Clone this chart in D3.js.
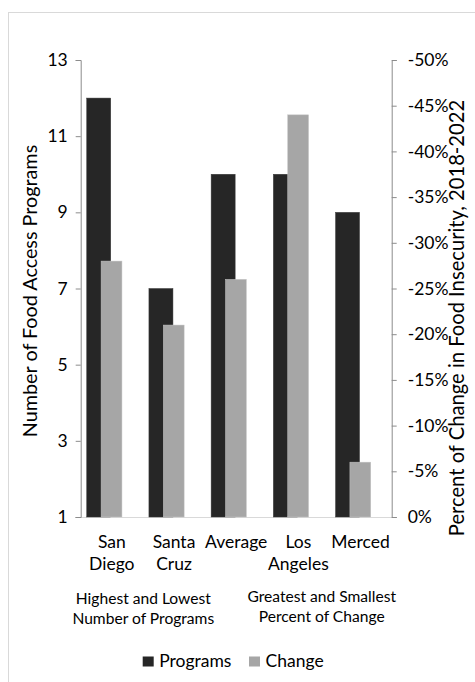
<!DOCTYPE html>
<html><head><meta charset="utf-8">
<script src="https://cdn.jsdelivr.net/npm/d3@7"></script>
<style>body{margin:0;background:#fff}svg{display:block}text{font-family:Lato,"Open Sans",sans-serif;fill:#000}</style>
</head><body><svg id="c" width="475" height="682"></svg>
<script>
const categories = [["San","Diego"],["Santa","Cruz"],["Average"],["Los","Angeles"],["Merced"]];
const programs = [12, 7, 10, 10, 9];
const change = [-0.28, -0.21, -0.26, -0.44, -0.06];
const leftTicks = [1, 3, 5, 7, 9, 11, 13];
const rightTicks = [0, -0.05, -0.10, -0.15, -0.20, -0.25, -0.30, -0.35, -0.40, -0.45, -0.50];
const groupLabels = [["Highest and Lowest","Number of Programs"],["Greatest and Smallest","Percent of Change"]];
const seriesNames = ["Programs","Change"];
const colors = ["#262626","#a6a6a6"];

const svg = d3.select("#c");
const L = 80.7, R = 391.7, T = 60, B = 517;
svg.append("rect").attr("x",8.5).attr("y",12.5).attr("width",480).attr("height",700)
  .attr("fill","none").attr("stroke","#d9d9d9");

const x = d3.scaleBand().domain(d3.range(categories.length)).range([L,R]).paddingInner(0).paddingOuter(0);
const yL = d3.scaleLinear().domain([1,13]).range([B,T]);
const yR = d3.scaleLinear().domain([0,-0.5]).range([B,T]);
const bw = x.bandwidth();

// bottom baseline
svg.append("line").attr("x1",75).attr("x2",397).attr("y1",B+0.5).attr("y2",B+0.5).attr("stroke","#d9d9d9");

// bars
svg.append("g").selectAll("rect").data(programs).join("rect")
  .attr("x",(d,i)=>x(i)+0.097*bw).attr("width",0.386*bw)
  .attr("y",d=>yL(d)).attr("height",d=>yL(1)-yL(d))
  .attr("fill",colors[0]).attr("stroke","#3a3a3a").attr("stroke-width",0.5);
svg.append("g").selectAll("rect").data(change).join("rect")
  .attr("x",(d,i)=>x(i)+0.328*bw).attr("width",0.335*bw)
  .attr("y",d=>yR(d)).attr("height",d=>yR(0)-yR(d))
  .attr("fill",colors[1]).attr("stroke","#c4c4c4").attr("stroke-width",0.5);

// axes
const axL = d3.axisLeft(yL).tickValues(leftTicks).tickSize(5).tickPadding(8).tickFormat(d3.format("d"));
const gL = svg.append("g").attr("transform",`translate(${L},0)`).call(axL);
const axR = d3.axisRight(yR).tickValues(rightTicks).tickSize(5).tickPadding(11).tickFormat(d3.format(".0%"));
const gR = svg.append("g").attr("transform",`translate(${R},0)`).call(axR);
[gL,gR].forEach(g=>{
  g.select(".domain").attr("stroke","#8c8c8c");
  g.selectAll(".tick line").attr("stroke","#8c8c8c");
  g.selectAll(".tick text").attr("font-size",17.5).attr("font-family","Lato").attr("fill","#000");
});
gR.selectAll(".tick text").text(d=> d===0 ? "0%" : "-"+Math.round(-d*100)+"%");

// category labels
const cl = svg.append("g");
categories.forEach((lines,i)=>{
  const t = cl.append("text").attr("x",x(i)+bw/2).attr("y",548).attr("text-anchor","middle").attr("font-size",17.5);
  lines.forEach((s,j)=>t.append("tspan").attr("x",x(i)+bw/2).attr("dy",j?22:0).text(s));
});
// group labels
const gx = [143.3, 321.7];
groupLabels.forEach((lines,i)=>{
  const t = svg.append("text").attr("x",gx[i]).attr("y",[604,602][i]).attr("text-anchor","middle").attr("font-size",15.6);
  lines.forEach((s,j)=>t.append("tspan").attr("x",gx[i]).attr("dy",j?20:0).text(s));
});

// axis titles
svg.append("text").attr("transform","translate(37,291) rotate(-90)").attr("text-anchor","middle").attr("font-size",19.8)
  .text("Number of Food Access Programs");
svg.append("text").attr("transform","translate(464,318) rotate(-90)").attr("text-anchor","middle").attr("font-size",20.2)
  .text("Percent of Change in Food Insecurity, 2018-2022");

// legend
const lg = svg.append("g");
const lx = [142.7, 249];
seriesNames.forEach((n,i)=>{
  lg.append("rect").attr("x",lx[i]).attr("y",656.5).attr("width",11).attr("height",10).attr("fill",colors[i]);
  lg.append("text").attr("x",lx[i]+16.5).attr("y",667).attr("font-size",17.5).text(n);
});
</script></body></html>
